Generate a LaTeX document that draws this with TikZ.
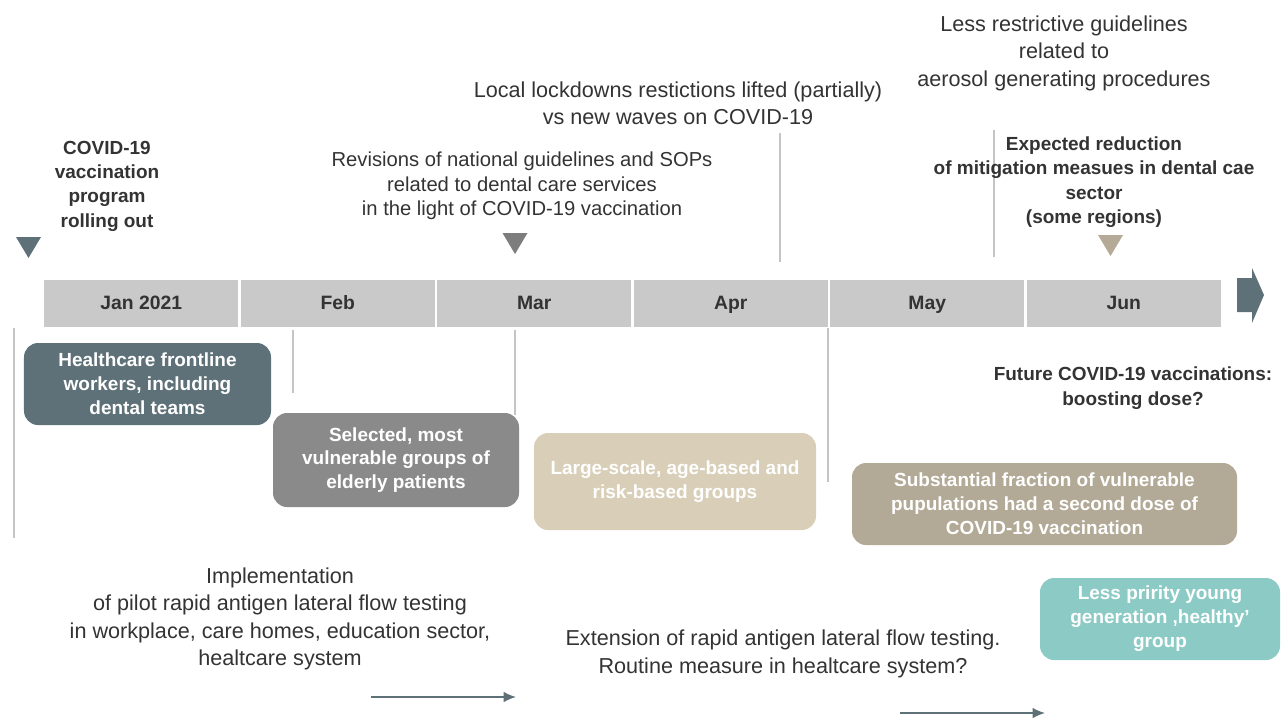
\documentclass[tikz,border=0pt]{standalone}
\usepackage{fontspec}
\setmainfont{Liberation Sans}
\usetikzlibrary{positioning,arrows.meta}

\definecolor{slate}{HTML}{5F7178}
\definecolor{midgray}{HTML}{8A8A8A}
\definecolor{trigray}{HTML}{7D7D7D}
\definecolor{sand}{HTML}{D9CFB9}
\definecolor{taupe}{HTML}{B2A996}
\definecolor{tritan}{HTML}{B5AA98}
\definecolor{teal}{HTML}{8CCBC5}
\definecolor{bargray}{HTML}{C9C9C9}
\definecolor{guide}{HTML}{C4C4C4}
\definecolor{ink}{HTML}{333333}

\tikzset{
  note/.style={align=center, text=ink, inner sep=0pt, font=\fontsize{12.3}{15.6}\selectfont},
  smallnote/.style={note, font=\fontsize{11.5}{14}\selectfont},
  boldnote/.style={note, font=\bfseries\fontsize{10.8}{13.8}\selectfont},
  group/.style={rounded corners=8pt, align=center, text=white, inner sep=0pt,
    font=\bfseries\fontsize{10.8}{13.6}\selectfont},
  month/.style={fill=bargray, minimum width=38.8mm, minimum height=9.4mm, inner sep=0pt,
    text height=1.6ex, text depth=.3ex, text=ink, font=\bfseries\fontsize{11}{12}\selectfont},
  guideline/.style={guide, line width=0.7pt},
  flow/.style={slate, line width=0.9pt, -{Latex[length=7pt,width=6pt]}}
}

\begin{document}
\begin{tikzpicture}[x=0.2mm, y=-0.2mm]
  \useasboundingbox (0,0) rectangle (1285,722);

  % month bar
  \foreach \i/\m in {0/Jan 2021,1/Feb,2/Mar,3/Apr,4/May,5/Jun}{
    \node[month] (m\i) at ({43+196.5*(\i+0.5)},303.5) {\m};
  }
  \fill[slate] (1237,278) -- (1252,278) -- (1252,268) -- (1264,295)
    -- (1252,323) -- (1252,312) -- (1237,312) -- cycle;

  % markers above the bar
  \foreach \x/\y/\c in {28.5/237/slate, 515/233/trigray, 1110.5/235/tritan}{
    \fill[\c] (\x-12.5,\y) -- ++(25,0) -- ++(-12.5,21) -- cycle;
  }

  % thin guide lines
  \foreach \x/\ya/\yb in {14/328/538, 293/330/393, 515/330/415,
                          780/133/262, 828/328/482, 994/130/257}{
    \draw[guideline] (\x,\ya) -- (\x,\yb);
  }

  % events above the bar
  \node[boldnote] (rollout) at (107,186) {COVID-19\\vaccination\\program\\rolling out};
  \node[smallnote] (revisions) at (522,186)
    {Revisions of national guidelines and SOPs\\related to dental care services\\in the light of COVID-19 vaccination};
  \node[note] (lockdown) at (678,103)
    {Local lockdowns restictions lifted (partially)\\vs new waves on COVID-19};
  \node[note] (aerosol) at (1064,53)
    {Less restrictive guidelines\\related to\\aerosol generating procedures};
  \node[boldnote] (mitigation) at (1094,182)
    {Expected reduction\\of mitigation measues in dental cae\\sector\\(some regions)};
  \node[boldnote] (booster) at (1133,388) {Future COVID-19 vaccinations:\\boosting dose?};

  % vaccination groups
  \node[group, fill=slate, minimum width=49.4mm, minimum height=16.4mm] (hcw) at (147.5,384)
    {Healthcare frontline\\workers, including\\dental teams};
  \node[group, fill=midgray, minimum width=49.2mm, minimum height=18.8mm] (elderly) at (396,460)
    {Selected, most\\vulnerable groups of\\elderly patients};
  \node[group, fill=sand, minimum width=56.4mm, minimum height=19.4mm] (agebased) at (675,481.5)
    {Large-scale, age-based and\\risk-based groups};
  \node[group, fill=taupe, minimum width=77mm, minimum height=16.4mm] (seconddose) at (1044.5,504)
    {Substantial fraction of vulnerable\\pupulations had a second dose of\\COVID-19 vaccination};
  \node[group, fill=teal, minimum width=48mm, minimum height=16.4mm] (young) at (1160,619)
    {Less pririty young\\generation ,healthy'\\group};

  % testing
  \node[note] (pilot) at (280,619)
    {Implementation\\of pilot rapid antigen lateral flow testing\\in workplace, care homes, education sector,\\healtcare system};
  \node[note] (extension) at (783,654)
    {Extension of rapid antigen lateral flow testing.\\Routine measure in healtcare system?};

  \coordinate (pilotA) at (371,697);
  \coordinate (pilotB) at (516,697);
  \coordinate (extA) at (900,713);
  \coordinate (extB) at (1045,713);
  \draw[flow] (pilotA) -- (pilotB);
  \draw[flow] (extA) -- (extB);

\end{tikzpicture}
\end{document}
